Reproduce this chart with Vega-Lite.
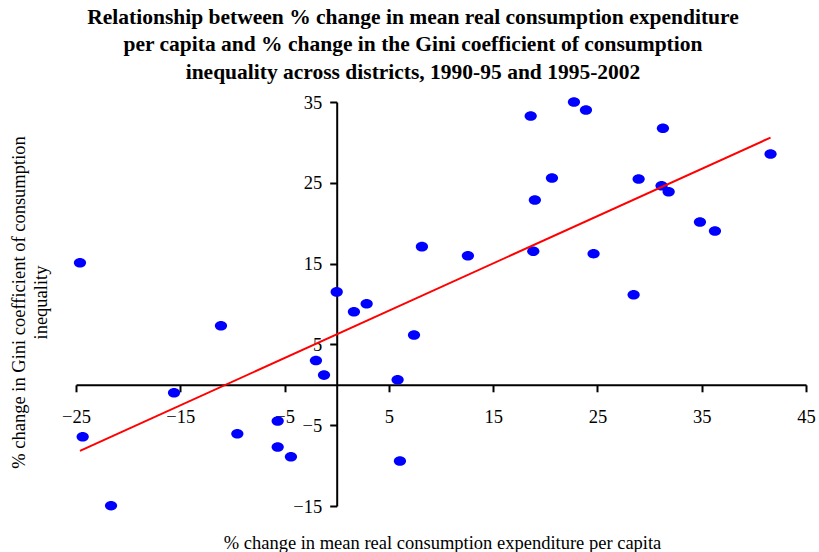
{
  "$schema": "https://vega.github.io/schema/vega-lite/v6.json",
  "width": 730,
  "height": 404,
  "autosize": {"type": "none"},
  "padding": {"left": 76, "top": 102, "right": 13, "bottom": 46},
  "background": "white",
  "config": {"view": {"stroke": null}},
  "title": {
    "text": ["Relationship between % change in mean real consumption expenditure", "per capita and % change in the Gini coefficient of consumption", "inequality across districts, 1990-95 and 1995-2002"],
    "font": "Liberation Serif",
    "fontSize": 21.5,
    "fontWeight": "bold",
    "color": "black",
    "anchor": "middle",
    "frame": "group",
    "dx": -28,
    "lineHeight": 27.5,
    "baseline": "bottom",
    "offset": -12
  },
  "data": {
    "values": [
      {"x": -1.99, "y": 3.0},
      {"x": -1.22, "y": 1.2},
      {"x": 0.0, "y": 11.5},
      {"x": 1.65, "y": 9.05},
      {"x": 2.87, "y": 10.04},
      {"x": 5.84, "y": 0.63},
      {"x": 7.41, "y": 6.16},
      {"x": 8.17, "y": 17.1},
      {"x": 12.58, "y": 15.98},
      {"x": 18.6, "y": 33.27},
      {"x": 18.85, "y": 16.52},
      {"x": 19.0, "y": 22.87},
      {"x": 20.64, "y": 25.6},
      {"x": 22.75, "y": 35.0},
      {"x": 23.9, "y": 34.0},
      {"x": 24.63, "y": 16.23},
      {"x": 28.47, "y": 11.15},
      {"x": 28.95, "y": 25.47},
      {"x": 31.15, "y": 24.64},
      {"x": 31.28, "y": 31.74},
      {"x": 31.83, "y": 23.9},
      {"x": 34.83, "y": 20.15},
      {"x": 36.27, "y": 19.03},
      {"x": 41.6, "y": 28.56},
      {"x": -24.62, "y": 15.11},
      {"x": -11.1, "y": 7.31},
      {"x": -15.6, "y": -0.98},
      {"x": -24.36, "y": -6.42},
      {"x": -9.53, "y": -6.05},
      {"x": -5.66, "y": -4.48},
      {"x": -5.66, "y": -7.7},
      {"x": -4.39, "y": -8.9},
      {"x": -21.64, "y": -14.96},
      {"x": 6.06, "y": -9.43}
    ]
  },
  "encoding": {
    "x": {
      "field": "x",
      "type": "quantitative",
      "scale": {"domain": [-25, 45], "nice": false, "zero": false},
      "axis": {
        "values": [-25, -15, -5, 5, 15, 25, 35, 45],
        "offset": -121.2,
        "grid": false,
        "domainColor": "black",
        "domainWidth": 2,
        "tickColor": "black",
        "tickWidth": 2,
        "tickSize": 7,
        "labelFont": "Liberation Serif",
        "labelFontSize": 18.5,
        "labelColor": "black",
        "labelPadding": 16,
        "labelFlush": false,
        "labelOverlap": false,
        "labelBound": false,
        "title": "% change in mean real consumption expenditure per capita",
        "titleFont": "Liberation Serif",
        "titleFontSize": 18.5,
        "titleFontWeight": "normal",
        "titleColor": "black",
        "titleX": 366,
        "titleY": 158,
        "titleAlign": "center",
        "titleBaseline": "middle"
      }
    },
    "y": {
      "field": "y",
      "type": "quantitative",
      "scale": {"domain": [-15, 35], "nice": false, "zero": false},
      "axis": {
        "values": [-15, -5, 5, 15, 25, 35],
        "offset": -260.7,
        "grid": false,
        "domainColor": "black",
        "domainWidth": 2,
        "tickColor": "black",
        "tickWidth": 2,
        "tickSize": 7,
        "labelFont": "Liberation Serif",
        "labelFontSize": 18.5,
        "labelColor": "black",
        "labelPadding": 8,
        "labelFlush": false,
        "labelOverlap": false,
        "labelBound": false,
        "title": ["% change in Gini coefficient of consumption", "inequality"],
        "titleFont": "Liberation Serif",
        "titleFontSize": 18.5,
        "titleFontWeight": "normal",
        "titleColor": "black",
        "titleAngle": -90,
        "titleX": -318.2,
        "titleY": 200,
        "titleAlign": "center",
        "titleBaseline": "middle",
        "titleLineHeight": 22
      }
    }
  },
  "layer": [
    {
      "mark": {
        "type": "point",
        "shape": "M-1,0 C-1,-0.431 -0.552,-0.78 0,-0.78 C0.552,-0.78 1,-0.431 1,0 C1,0.431 0.552,0.78 0,0.78 C-0.552,0.78 -1,0.431 -1,0 Z",
        "filled": true,
        "size": 150,
        "color": "#0000FF",
        "opacity": 1,
        "strokeWidth": 0
      }
    },
    {
      "transform": [{"regression": "y", "on": "x"}],
      "mark": {"type": "line", "color": "#FF0000", "strokeWidth": 2}
    }
  ]
}
